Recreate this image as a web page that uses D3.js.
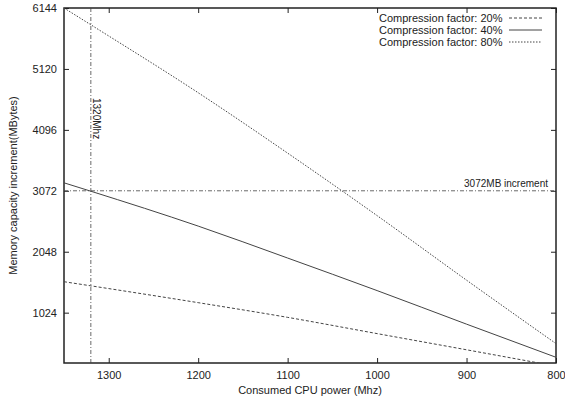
<!DOCTYPE html>
<html>
<head>
<meta charset="utf-8">
<script src="https://cdn.jsdelivr.net/npm/d3@7"></script>
<style>
  body { margin: 0; background: #fff; }
  text { font-family: "Liberation Sans", Arial, sans-serif; fill: #222; }
  .axis text { font-size: 11px; }
  .axis path, .axis line { stroke: #222; }
</style>
</head>
<body>
<div class="chart"></div>
<script>
// === Data ===
const cpu = [1350, 1320, 1200, 1100, 1000, 900, 800];
const factor20 = [1544, 1475, 1192, 945, 672, 400, 125];
const factor40 = [3206, 3065, 2479, 1942, 1395, 831, 274];
const factor80 = [6144, 5862, 4720, 3705, 2655, 1570, 504];
const seriesNames = ["Compression factor: 20%", "Compression factor: 40%", "Compression factor: 80%"];
const xTicks = [1300, 1200, 1100, 1000, 900, 800];
const yTicks = [1024, 2048, 3072, 4096, 5120, 6144];
const cpuMark = 1320;
const memMark = 3072;

//Chart init
const margin = {top: 8, right: 9, bottom: 37, left: 64};
const width = 565 - margin.left - margin.right;
const height = 400 - margin.top - margin.bottom;

const svg = d3.select(".chart").append("svg")
    .attr("width", width + margin.left + margin.right)
    .attr("height", height + margin.top + margin.bottom)
    .append("g")
    .attr("transform", "translate(" + margin.left + "," + margin.top + ")");

// === Scales ===
const xScale = d3.scaleLinear().domain([1350, 800]).range([0, width]);
const yScale = d3.scaleLinear().domain([178, 6144]).range([height, 0]);

svg.append("clipPath").attr("id", "clip")
    .append("rect").attr("width", width).attr("height", height);

// === Axes (gnuplot style, ticks inward on all sides) ===
const fmt = d3.format("d");
svg.append("g").attr("class", "axis")
    .attr("transform", "translate(0," + height + ")")
    .call(d3.axisBottom(xScale).tickValues(xTicks).tickFormat(fmt).tickSize(-5).tickPadding(8).tickSizeOuter(0));
svg.append("g").attr("class", "axis")
    .call(d3.axisTop(xScale).tickValues(xTicks).tickSize(-5).tickFormat("").tickSizeOuter(0));
svg.append("g").attr("class", "axis")
    .call(d3.axisLeft(yScale).tickValues(yTicks).tickFormat(fmt).tickSize(-5).tickPadding(7).tickSizeOuter(0));
svg.append("g").attr("class", "axis")
    .attr("transform", "translate(" + width + ",0)")
    .call(d3.axisRight(yScale).tickValues(yTicks).tickSize(-5).tickFormat("").tickSizeOuter(0));

svg.selectAll(".axis .domain").remove();
svg.append("rect")
    .attr("width", width).attr("height", height)
    .attr("fill", "none").attr("stroke", "#222").attr("stroke-width", 1.5);

// === Reference lines ===
svg.append("line")
    .attr("x1", xScale(cpuMark)).attr("x2", xScale(cpuMark))
    .attr("y1", 0).attr("y2", height)
    .attr("stroke", "#444").attr("stroke-width", 0.8)
    .attr("stroke-dasharray", "4,2,1,2");
svg.append("text")
    .attr("transform", "translate(" + (xScale(cpuMark) + 2) + ",90) rotate(90)")
    .attr("font-size", "10px")
    .text("1320Mhz");

svg.append("line")
    .attr("x1", 0).attr("x2", width)
    .attr("y1", yScale(memMark)).attr("y2", yScale(memMark))
    .attr("stroke", "#444").attr("stroke-width", 0.8)
    .attr("stroke-dasharray", "4,2,1,2");
svg.append("text")
    .attr("x", width - 8).attr("y", yScale(memMark) - 4)
    .attr("text-anchor", "end")
    .attr("font-size", "10px")
    .text("3072MB increment");

// === Series ===
const series = [factor20, factor40, factor80];
const dashes = ["3,2", null, "1.5,1.5"];
const line = d3.line()
    .x((d, i) => xScale(cpu[i]))
    .y(d => yScale(d))
    .curve(d3.curveMonotoneX);

series.forEach((vals, k) => {
    svg.append("path")
        .datum(vals)
        .attr("clip-path", "url(#clip)")
        .attr("d", line)
        .attr("fill", "none")
        .attr("stroke", "#444")
        .attr("stroke-width", 1)
        .attr("stroke-dasharray", dashes[k]);
});

// === Legend ===
const legend = svg.append("g").attr("transform", "translate(" + (width - 177) + ",10)");
seriesNames.forEach((name, k) => {
    legend.append("text")
        .attr("x", 0).attr("y", k * 12 + 4)
        .attr("font-size", "11px")
        .text(name);
    legend.append("line")
        .attr("x1", 130).attr("x2", 163)
        .attr("y1", k * 12).attr("y2", k * 12)
        .attr("stroke", "#444").attr("stroke-width", 1)
        .attr("stroke-dasharray", dashes[k]);
});

// === Axis titles ===
svg.append("text")
    .attr("x", width / 2).attr("y", height + 31)
    .attr("text-anchor", "middle")
    .attr("font-size", "11px")
    .text("Consumed CPU power (Mhz)");
svg.append("text")
    .attr("transform", "translate(" + (-47) + "," + (height / 2) + ") rotate(-90)")
    .attr("text-anchor", "middle")
    .attr("font-size", "11px")
    .text("Memory capacity increment(MBytes)");
</script>
</body>
</html>
